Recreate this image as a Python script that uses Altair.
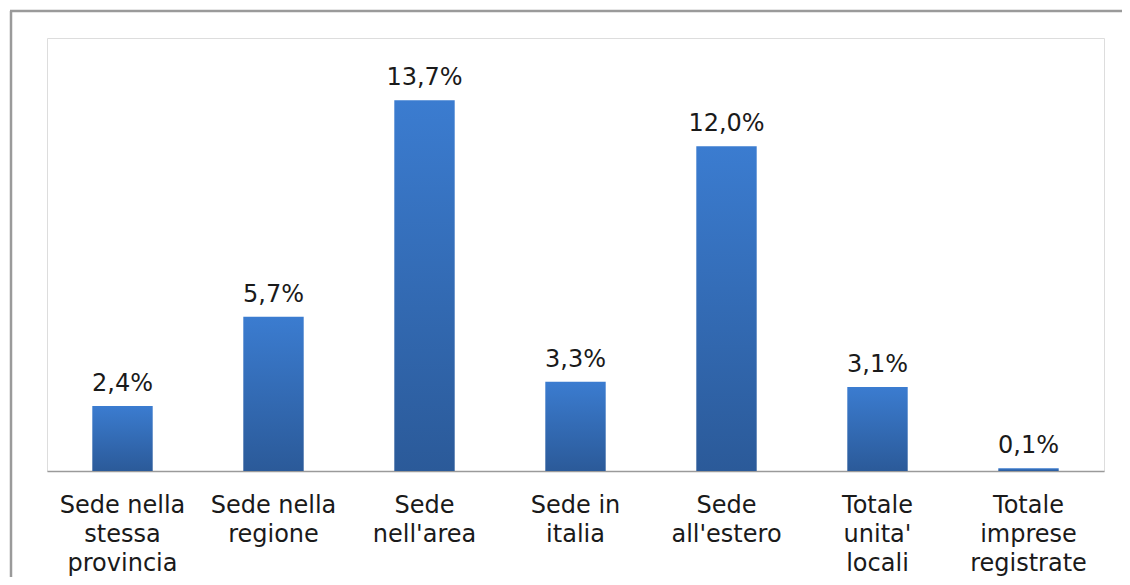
import altair as alt
import pandas as pd

categories = [
    "Sede nella|stessa|provincia",
    "Sede nella|regione",
    "Sede|nell'area",
    "Sede in|italia",
    "Sede|all'estero",
    "Totale|unita'|locali",
    "Totale|imprese|registrate",
]
values = [2.4, 5.7, 13.7, 3.3, 12.0, 3.1, 0.1]
labels = [f"{v:.1f}%".replace(".", ",") for v in values]

df = pd.DataFrame({"cat": categories, "val": values, "lab": labels})

FONT = "DejaVu Sans"

x_enc = alt.X(
    "cat:N",
    sort=None,
    title=None,
    scale=alt.Scale(paddingInner=0.6, paddingOuter=0.3),
    axis=alt.Axis(
        labelExpr="split(datum.label, '|')",
        labelAngle=0,
        labelFont=FONT,
        labelFontSize=24,
        labelColor="#1a1a1a",
        labelLineHeight=29,
        labelPadding=22,
        labelBaseline="top",
        labelLimit=300,
        ticks=False,
        domainColor="#9a9a9a",
        domainWidth=1.5,
        grid=False,
    ),
)
y_enc = alt.Y("val:Q", scale=alt.Scale(domain=[0, 16]), axis=None)

grad = alt.LinearGradient(
    gradient="linear",
    stops=[
        alt.GradientStop(color="#3b7cd0", offset=0),
        alt.GradientStop(color="#2b5a99", offset=1),
    ],
    x1=0, x2=0, y1=0, y2=1,
)

bars = alt.Chart(df).mark_bar(color=grad).encode(x=x_enc, y=y_enc)

text = alt.Chart(df).mark_text(
    font=FONT, fontSize=24, color="#1a1a1a", baseline="bottom", dy=-10
).encode(x=alt.X("cat:N", sort=None), y="val:Q", text="lab:N")

frame_df = pd.DataFrame({"k": [0]})
left_rule = alt.Chart(frame_df).mark_rule(color="#9a9a9a", strokeWidth=2.5).encode(
    x=alt.value(-36), y=alt.value(-27), y2=alt.value(560)
)
top_rule = alt.Chart(frame_df).mark_rule(color="#9a9a9a", strokeWidth=2.5).encode(
    x=alt.value(-37), x2=alt.value(1075), y=alt.value(-27)
)

chart = (
    alt.layer(bars, text, left_rule, top_rule)
    .properties(
        width=1057,
        height=433,
        autosize=alt.AutoSizeParams(type="none"),
        padding={"left": 39, "top": 30, "right": 18, "bottom": 106},
    )
    .configure_view(stroke="#ffffff", strokeWidth=0, strokeOpacity=0)
    .configure(background="#ffffff")
)

chart.save("out.html", embed_options={"renderer": "svg", "actions": False})
